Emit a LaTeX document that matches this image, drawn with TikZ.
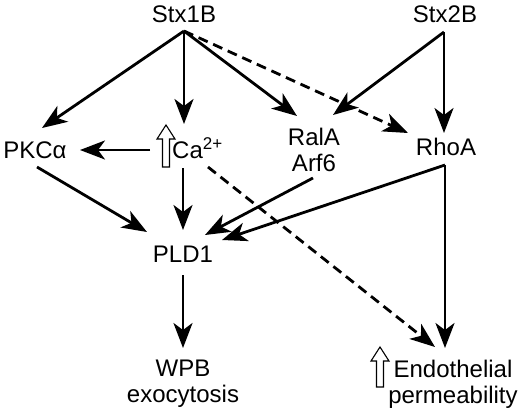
\documentclass[tikz,border=0pt]{standalone}
\usepackage{fontspec}
\setmainfont{Liberation Sans}
\usetikzlibrary{arrows.meta}
\begin{document}
\begin{tikzpicture}[x=1pt,y=-1pt,
  lbl/.style={inner sep=0pt,anchor=base,font=\fontsize{24}{26}\selectfont,align=center},
  conn/.style={line width=2.8pt,-{Stealth[length=25pt,width=19pt,inset=7pt]}},
  dconn/.style={conn,dash pattern=on 10pt off 6pt},
  uparrow/.style={draw=black,fill=white,line width=1.1pt,line join=miter}]
\useasboundingbox (0,0) rectangle (520,413);
% labels (base anchor of a two-line label = baseline of its last line)
\node[lbl] (stx1) at (184,22) {Stx1B};
\node[lbl] (stx2) at (445,22) {Stx2B};
\node[lbl] (pkc) at (35,158) {PKCα};
\node[lbl,anchor=base west] (ca) at (172,158) {Ca\raisebox{9pt}{\fontsize{17}{17}\selectfont 2+}};
\node[lbl] (ral) at (314,171) {RalA\\Arf6};
\node[lbl] (rho) at (446,155) {RhoA};
\node[lbl] (pld) at (183,262) {PLD1};
\node[lbl] (wpb) at (183,402) {WPB\\exocytosis};
\node[lbl] (endo) at (453,403) {Endothelial\\permeability};
% ports
\coordinate (s1o) at (184,31);
\coordinate (s2o) at (444,32);
\coordinate (pkcI) at (42,128);
\coordinate (pkcE) at (80,150);
\coordinate (pkcO) at (37,167);
\coordinate (caI) at (184,124);
\coordinate (caW) at (150,150);
\coordinate (caS) at (183,168);
\coordinate (caD) at (208,167);
\coordinate (ralI1) at (297,116);
\coordinate (ralI2) at (333,115);
\coordinate (ralO) at (313,178);
\coordinate (rhoI1) at (408,133);
\coordinate (rhoI2) at (444,133);
\coordinate (rhoO) at (445,165);
\coordinate (pldN) at (183,230);
\coordinate (pldW) at (147,232);
\coordinate (pldE1) at (205,235);
\coordinate (pldE2) at (222,240);
\coordinate (pldS) at (183,275);
\coordinate (wpbN) at (183,348);
\coordinate (endoN1) at (435,347);
\coordinate (endoN2) at (445,348);
% connectors
\draw[conn] (s1o) -- (pkcI);
\draw[conn] (s1o) -- (caI);
\draw[conn] (s1o) -- (ralI1);
\draw[dconn] (s1o) -- (rhoI1);
\draw[conn] (s2o) -- (ralI2);
\draw[conn] (s2o) -- (rhoI2);
\draw[conn] (caW) -- (pkcE);
\draw[conn] (pkcO) -- (pldW);
\draw[conn] (caS) -- (pldN);
\draw[conn] (ralO) -- (pldE1);
\draw[conn] (rhoO) -- (pldE2);
\draw[conn] (rhoO) -- (endoN2);
\draw[dconn] (caD) -- (endoN1);
\draw[conn] (pldS) -- (wpbN);
% open "increase" arrows
\draw[uparrow] (166,125) -- (175,139) -- (169.5,139) -- (169.5,167) -- (162.5,167) -- (162.5,139) -- (157,139) -- cycle;
\draw[uparrow] (380,347) -- (389,361) -- (383.5,361) -- (383.5,387) -- (376.5,387) -- (376.5,361) -- (371,361) -- cycle;
\end{tikzpicture}
\end{document}
